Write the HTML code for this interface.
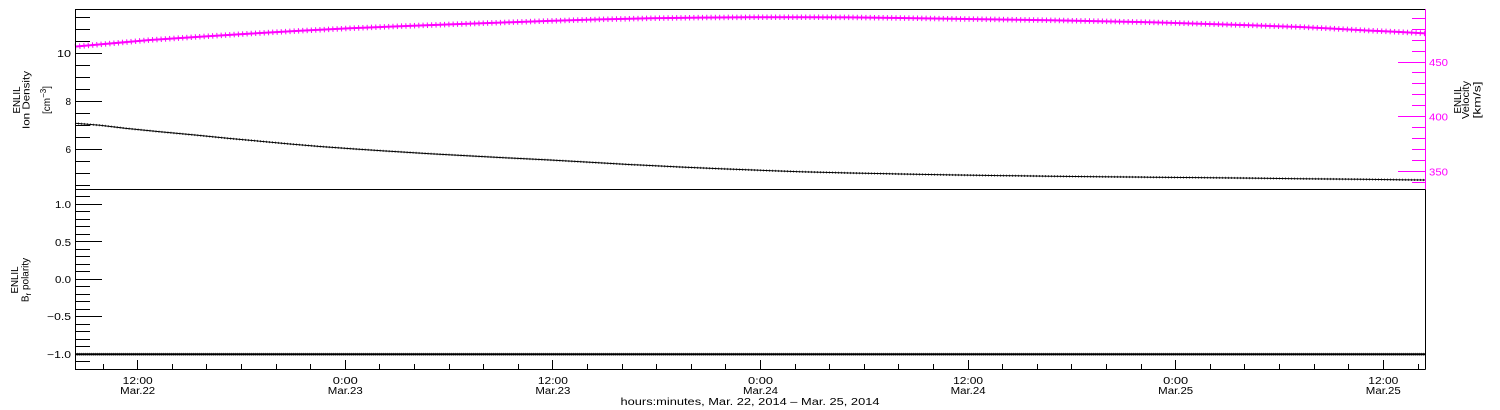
<!DOCTYPE html>
<html>
<head>
<meta charset="utf-8">
<style>
html,body{margin:0;padding:0;background:#fff;}
svg{display:block;}
text{font-family:"Liberation Sans",sans-serif;font-size:10px;fill:#000;}
</style>
</head>
<body>
<svg width="1500" height="410" viewBox="0 0 1500 410" xmlns="http://www.w3.org/2000/svg">
<rect x="0" y="0" width="1500" height="410" fill="#fff"/>

<!-- ===== Data: top panel ===== -->
<!-- velocity (magenta) -->
<path d="M75,46.6 L100,44.4 L150,40 L200,36.7 L250,33.6 L300,30.8 L350,28.3 L400,26.2 L450,24.4 L500,22.6 L550,20.9 L600,19.4 L650,18.3 L700,17.6 L750,17.3 L800,17.2 L850,17.4 L900,18 L950,18.8 L1000,19.5 L1050,20.3 L1100,21.2 L1150,22.3 L1200,23.7 L1250,25.3 L1300,27 L1333,28.6 L1367,30.5 L1400,32 L1425,33.4" fill="none" stroke="#ff00ff" stroke-width="2"/>
<path d="M75,46.6 L100,44.4 L150,40 L200,36.7 L250,33.6 L300,30.8 L350,28.3 L400,26.2 L450,24.4 L500,22.6 L550,20.9 L600,19.4 L650,18.3 L700,17.6 L750,17.3 L800,17.2 L850,17.4 L900,18 L950,18.8 L1000,19.5 L1050,20.3 L1100,21.2 L1150,22.3 L1200,23.7 L1250,25.3 L1300,27 L1333,28.6 L1367,30.5 L1400,32 L1425,33.4" fill="none" stroke="#ff00ff" stroke-width="5.5" stroke-dasharray="1 3.3"/>
<!-- density (black) -->
<path d="M75,123.3 L100,125.3 L130,128.8 L160,131.8 L195,135 L230,138.5 L260,141.2 L290,144 L320,146.5 L355,149 L390,151.3 L430,153.7 L467,155.7 L510,158 L550,160 L590,162.3 L633,164.7 L680,167 L720,168.7 L760,170.3 L800,171.7 L850,173 L900,174 L950,174.9 L1000,175.6 L1050,176.2 L1100,176.7 L1150,177.2 L1200,177.6 L1250,178.1 L1300,178.7 L1360,179.3 L1425,180" fill="none" stroke="#000" stroke-width="1"/>
<path d="M75,123.3 L100,125.3 L130,128.8 L160,131.8 L195,135 L230,138.5 L260,141.2 L290,144 L320,146.5 L355,149 L390,151.3 L430,153.7 L467,155.7 L510,158 L550,160 L590,162.3 L633,164.7 L680,167 L720,168.7 L760,170.3 L800,171.7 L850,173 L900,174 L950,174.9 L1000,175.6 L1050,176.2 L1100,176.7 L1150,177.2 L1200,177.6 L1250,178.1 L1300,178.7 L1360,179.3 L1425,180" fill="none" stroke="#000" stroke-width="2.2" stroke-dasharray="0.8 2.2" opacity="0.8"/>

<!-- ===== Data: bottom panel ===== -->
<line x1="75" y1="354.3" x2="1425" y2="354.3" stroke="#000" stroke-width="2"/>
<line x1="75" y1="354.3" x2="1425" y2="354.3" stroke="#000" stroke-width="3" stroke-dasharray="0.7 1.3" opacity="0.6"/>

<!-- ===== Frames ===== -->
<g shape-rendering="crispEdges" stroke="#000" stroke-width="1" fill="none">
<line x1="75.5" y1="9" x2="75.5" y2="369.5"/>
<line x1="75" y1="9.5" x2="1425.5" y2="9.5"/>
<line x1="75" y1="189.5" x2="1425.5" y2="189.5"/>
<line x1="75" y1="369.5" x2="1425.5" y2="369.5"/>
<line x1="1425.5" y1="189.5" x2="1425.5" y2="369.5"/>
</g>
<line x1="1425.5" y1="9" x2="1425.5" y2="189" stroke="#ff00ff" stroke-width="1" shape-rendering="crispEdges"/>

<!-- ===== Top-left ticks ===== -->
<g shape-rendering="crispEdges" stroke="#000" stroke-width="1">
<line x1="75" y1="185.5" x2="90" y2="185.5"/>
<line x1="75" y1="173.5" x2="90" y2="173.5"/>
<line x1="75" y1="161.5" x2="90" y2="161.5"/>
<line x1="75" y1="149.5" x2="102" y2="149.5"/>
<line x1="75" y1="137.5" x2="90" y2="137.5"/>
<line x1="75" y1="125.5" x2="90" y2="125.5"/>
<line x1="75" y1="113.5" x2="90" y2="113.5"/>
<line x1="75" y1="101.5" x2="102" y2="101.5"/>
<line x1="75" y1="89.5" x2="90" y2="89.5"/>
<line x1="75" y1="77.5" x2="90" y2="77.5"/>
<line x1="75" y1="65.5" x2="90" y2="65.5"/>
<line x1="75" y1="53.5" x2="102" y2="53.5"/>
<line x1="75" y1="41.5" x2="90" y2="41.5"/>
<line x1="75" y1="29.5" x2="90" y2="29.5"/>
<line x1="75" y1="17.5" x2="90" y2="17.5"/>
</g>

<!-- ===== Top-right (magenta) ticks ===== -->
<g shape-rendering="crispEdges" stroke="#ff00ff" stroke-width="1">
<line x1="1412" y1="182.5" x2="1425" y2="182.5"/>
<line x1="1398" y1="171.5" x2="1425" y2="171.5"/>
<line x1="1412" y1="160.5" x2="1425" y2="160.5"/>
<line x1="1412" y1="149.5" x2="1425" y2="149.5"/>
<line x1="1412" y1="138.5" x2="1425" y2="138.5"/>
<line x1="1412" y1="127.5" x2="1425" y2="127.5"/>
<line x1="1398" y1="116.5" x2="1425" y2="116.5"/>
<line x1="1412" y1="105.5" x2="1425" y2="105.5"/>
<line x1="1412" y1="94.5" x2="1425" y2="94.5"/>
<line x1="1412" y1="83.5" x2="1425" y2="83.5"/>
<line x1="1412" y1="72.5" x2="1425" y2="72.5"/>
<line x1="1398" y1="62.5" x2="1425" y2="62.5"/>
<line x1="1412" y1="51.5" x2="1425" y2="51.5"/>
<line x1="1412" y1="40.5" x2="1425" y2="40.5"/>
<line x1="1412" y1="29.5" x2="1425" y2="29.5"/>
<line x1="1412" y1="18.5" x2="1425" y2="18.5"/>
</g>

<!-- ===== Bottom-left ticks ===== -->
<g shape-rendering="crispEdges" stroke="#000" stroke-width="1">
<line x1="75" y1="196.5" x2="90" y2="196.5"/>
<line x1="75" y1="204.5" x2="102" y2="204.5"/>
<line x1="75" y1="211.5" x2="90" y2="211.5"/>
<line x1="75" y1="219.5" x2="90" y2="219.5"/>
<line x1="75" y1="226.5" x2="90" y2="226.5"/>
<line x1="75" y1="234.5" x2="90" y2="234.5"/>
<line x1="75" y1="241.5" x2="102" y2="241.5"/>
<line x1="75" y1="249.5" x2="90" y2="249.5"/>
<line x1="75" y1="256.5" x2="90" y2="256.5"/>
<line x1="75" y1="264.5" x2="90" y2="264.5"/>
<line x1="75" y1="271.5" x2="90" y2="271.5"/>
<line x1="75" y1="279.5" x2="102" y2="279.5"/>
<line x1="75" y1="286.5" x2="90" y2="286.5"/>
<line x1="75" y1="294.5" x2="90" y2="294.5"/>
<line x1="75" y1="301.5" x2="90" y2="301.5"/>
<line x1="75" y1="309.5" x2="90" y2="309.5"/>
<line x1="75" y1="316.5" x2="102" y2="316.5"/>
<line x1="75" y1="324.5" x2="90" y2="324.5"/>
<line x1="75" y1="331.5" x2="90" y2="331.5"/>
<line x1="75" y1="339.5" x2="90" y2="339.5"/>
<line x1="75" y1="346.5" x2="90" y2="346.5"/>
<line x1="75" y1="354.5" x2="102" y2="354.5"/>
<line x1="75" y1="361.5" x2="90" y2="361.5"/>
</g>

<!-- ===== Bottom x ticks ===== -->
<g shape-rendering="crispEdges" stroke="#000" stroke-width="1">
<line x1="103.5" y1="364" x2="103.5" y2="369"/>
<line x1="137.5" y1="360" x2="137.5" y2="369"/>
<line x1="172.5" y1="364" x2="172.5" y2="369"/>
<line x1="206.5" y1="364" x2="206.5" y2="369"/>
<line x1="241.5" y1="364" x2="241.5" y2="369"/>
<line x1="276.5" y1="364" x2="276.5" y2="369"/>
<line x1="310.5" y1="364" x2="310.5" y2="369"/>
<line x1="345.5" y1="360" x2="345.5" y2="369"/>
<line x1="379.5" y1="364" x2="379.5" y2="369"/>
<line x1="414.5" y1="364" x2="414.5" y2="369"/>
<line x1="449.5" y1="364" x2="449.5" y2="369"/>
<line x1="483.5" y1="364" x2="483.5" y2="369"/>
<line x1="518.5" y1="364" x2="518.5" y2="369"/>
<line x1="552.5" y1="360" x2="552.5" y2="369"/>
<line x1="587.5" y1="364" x2="587.5" y2="369"/>
<line x1="622.5" y1="364" x2="622.5" y2="369"/>
<line x1="656.5" y1="364" x2="656.5" y2="369"/>
<line x1="691.5" y1="364" x2="691.5" y2="369"/>
<line x1="725.5" y1="364" x2="725.5" y2="369"/>
<line x1="760.5" y1="360" x2="760.5" y2="369"/>
<line x1="795.5" y1="364" x2="795.5" y2="369"/>
<line x1="829.5" y1="364" x2="829.5" y2="369"/>
<line x1="864.5" y1="364" x2="864.5" y2="369"/>
<line x1="898.5" y1="364" x2="898.5" y2="369"/>
<line x1="933.5" y1="364" x2="933.5" y2="369"/>
<line x1="968.5" y1="360" x2="968.5" y2="369"/>
<line x1="1002.5" y1="364" x2="1002.5" y2="369"/>
<line x1="1037.5" y1="364" x2="1037.5" y2="369"/>
<line x1="1071.5" y1="364" x2="1071.5" y2="369"/>
<line x1="1106.5" y1="364" x2="1106.5" y2="369"/>
<line x1="1141.5" y1="364" x2="1141.5" y2="369"/>
<line x1="1175.5" y1="360" x2="1175.5" y2="369"/>
<line x1="1210.5" y1="364" x2="1210.5" y2="369"/>
<line x1="1244.5" y1="364" x2="1244.5" y2="369"/>
<line x1="1279.5" y1="364" x2="1279.5" y2="369"/>
<line x1="1314.5" y1="364" x2="1314.5" y2="369"/>
<line x1="1348.5" y1="364" x2="1348.5" y2="369"/>
<line x1="1383.5" y1="360" x2="1383.5" y2="369"/>
<line x1="1418.5" y1="364" x2="1418.5" y2="369"/>
</g>

<!-- ===== Tick labels ===== -->
<g text-anchor="end">
<text x="71" y="57" textLength="14" lengthAdjust="spacingAndGlyphs">10</text>
<text x="71" y="105">8</text>
<text x="71" y="153">6</text>
<text x="71" y="208" textLength="16" lengthAdjust="spacingAndGlyphs">1.0</text>
<text x="71" y="246" textLength="16" lengthAdjust="spacingAndGlyphs">0.5</text>
<text x="71" y="283" textLength="16" lengthAdjust="spacingAndGlyphs">0.0</text>
<text x="71" y="320" textLength="24" lengthAdjust="spacingAndGlyphs">−0.5</text>
<text x="71" y="358" textLength="24" lengthAdjust="spacingAndGlyphs">−1.0</text>
</g>
<text x="1429" y="66" textLength="19" lengthAdjust="spacingAndGlyphs" style="fill:#ff00ff">450</text>
<text x="1429" y="120.5" textLength="19" lengthAdjust="spacingAndGlyphs" style="fill:#ff00ff">400</text>
<text x="1429" y="175.5" textLength="19" lengthAdjust="spacingAndGlyphs" style="fill:#ff00ff">350</text>

<g text-anchor="middle">
<text x="137.7" y="384" textLength="30" lengthAdjust="spacingAndGlyphs">12:00</text>
<text x="137.7" y="394" textLength="35" lengthAdjust="spacingAndGlyphs">Mar.22</text>
<text x="345.3" y="384" textLength="25" lengthAdjust="spacingAndGlyphs">0:00</text>
<text x="345.3" y="394" textLength="35" lengthAdjust="spacingAndGlyphs">Mar.23</text>
<text x="552.9" y="384" textLength="30" lengthAdjust="spacingAndGlyphs">12:00</text>
<text x="552.9" y="394" textLength="35" lengthAdjust="spacingAndGlyphs">Mar.23</text>
<text x="760.5" y="384" textLength="25" lengthAdjust="spacingAndGlyphs">0:00</text>
<text x="760.5" y="394" textLength="35" lengthAdjust="spacingAndGlyphs">Mar.24</text>
<text x="968.1" y="384" textLength="30" lengthAdjust="spacingAndGlyphs">12:00</text>
<text x="968.1" y="394" textLength="35" lengthAdjust="spacingAndGlyphs">Mar.24</text>
<text x="1175.7" y="384" textLength="25" lengthAdjust="spacingAndGlyphs">0:00</text>
<text x="1175.7" y="394" textLength="35" lengthAdjust="spacingAndGlyphs">Mar.25</text>
<text x="1383.3" y="384" textLength="30" lengthAdjust="spacingAndGlyphs">12:00</text>
<text x="1383.3" y="394" textLength="35" lengthAdjust="spacingAndGlyphs">Mar.25</text>
<text x="750" y="405" textLength="259" lengthAdjust="spacingAndGlyphs">hours:minutes, Mar. 22, 2014 – Mar. 25, 2014</text>
</g>

<!-- ===== Axis titles ===== -->
<g text-anchor="middle">
<text transform="translate(20,100) rotate(-90)" textLength="27" lengthAdjust="spacingAndGlyphs">ENLIL</text>
<text transform="translate(29.5,100) rotate(-90)" textLength="58" lengthAdjust="spacingAndGlyphs">Ion Density</text>
<text transform="translate(50,100) rotate(-90)" font-size="11">[cm<tspan dy="-4" font-size="8">−3</tspan><tspan dy="4">]</tspan></text>

<text transform="translate(18,280) rotate(-90)" textLength="27" lengthAdjust="spacingAndGlyphs">ENLIL</text>
<text transform="translate(28.5,280) rotate(-90)">B<tspan dy="2.5" font-size="8">r</tspan><tspan dy="-2.5"> polarity</tspan></text>

<text transform="translate(1461,100) rotate(-90)" textLength="27" lengthAdjust="spacingAndGlyphs">ENLIL</text>
<text transform="translate(1469,100) rotate(-90)" textLength="38" lengthAdjust="spacingAndGlyphs">Velocity</text>
<text transform="translate(1480.5,100) rotate(-90)" textLength="37" lengthAdjust="spacingAndGlyphs">[km/s]</text>
</g>
</svg>
</body>
</html>
